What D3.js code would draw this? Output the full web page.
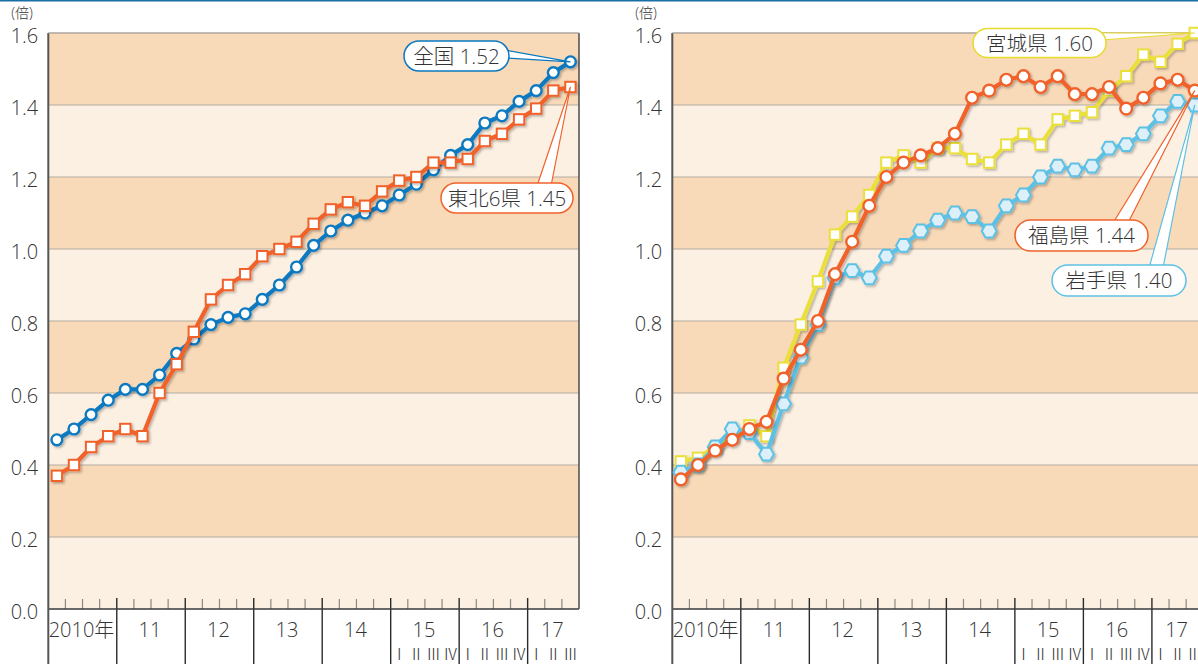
<!DOCTYPE html>
<html><head><meta charset="utf-8">
<script src="https://cdn.jsdelivr.net/npm/d3@7"></script>
<style>
body{margin:0;background:#fff;}
svg{display:block;}
text{font-family:"Open Sans","Noto Sans CJK JP",sans-serif;font-weight:300;fill:#333;}
</style></head><body>
<svg id="chart" width="1198" height="664"></svg>
<script>
// ---- data ----
const quarters = ["2010Q1","2010Q2","2010Q3","2010Q4","2011Q1","2011Q2","2011Q3","2011Q4",
  "2012Q1","2012Q2","2012Q3","2012Q4","2013Q1","2013Q2","2013Q3","2013Q4",
  "2014Q1","2014Q2","2014Q3","2014Q4","2015Q1","2015Q2","2015Q3","2015Q4",
  "2016Q1","2016Q2","2016Q3","2016Q4","2017Q1","2017Q2","2017Q3"];
const years = [2010,2011,2012,2013,2014,2015,2016,2017];
const yearLabels = ["2010年","11","12","13","14","15","16","17"];
const romanLabels = ["Ⅰ","Ⅱ","Ⅲ","Ⅳ"];
const romanYears = [2015,2016,2017];
const yTicks = [0,0.2,0.4,0.6,0.8,1.0,1.2,1.4,1.6];
const yUnit = "(倍)";

const zenkoku   = [0.47,0.50,0.54,0.58,0.61,0.61,0.65,0.71,0.75,0.79,0.81,0.82,0.86,0.90,0.95,1.01,1.05,1.08,1.10,1.12,1.15,1.18,1.22,1.26,1.29,1.35,1.37,1.41,1.44,1.49,1.52];
const tohoku6   = [0.37,0.40,0.45,0.48,0.50,0.48,0.60,0.68,0.77,0.86,0.90,0.93,0.98,1.00,1.02,1.07,1.11,1.13,1.12,1.16,1.19,1.20,1.24,1.24,1.25,1.30,1.32,1.36,1.39,1.44,1.45];
const miyagi    = [0.41,0.42,0.45,0.48,0.51,0.48,0.67,0.79,0.91,1.04,1.09,1.15,1.24,1.26,1.24,1.28,1.28,1.25,1.24,1.29,1.32,1.29,1.36,1.37,1.38,1.44,1.48,1.54,1.52,1.57,1.60];
const fukushima = [0.36,0.40,0.44,0.47,0.50,0.52,0.64,0.72,0.80,0.93,1.02,1.12,1.20,1.24,1.26,1.28,1.32,1.42,1.44,1.47,1.48,1.45,1.48,1.43,1.43,1.45,1.39,1.42,1.46,1.47,1.44];
const iwate     = [0.38,0.40,0.45,0.50,0.49,0.43,0.57,0.70,0.79,0.92,0.94,0.92,0.98,1.01,1.05,1.08,1.10,1.09,1.05,1.12,1.15,1.20,1.23,1.22,1.23,1.28,1.29,1.32,1.37,1.41,1.40];

const seriesNames = ["全国","東北6県","宮城県","福島県","岩手県"];

// ---- styles ----
const C = {
  blue:"#0a79c0", orange:"#f1622b", yellow:"#ebe03b", lblue:"#5cc1e5", lblueFill:"#ddf0fa",
  dark:"#f8dab9", light:"#fcf0e3", grid:"#b4aba3", axis:"#3a3a3a"
};

const svg = d3.select("#chart");
const defs = svg.append("defs");
const f = defs.append("filter").attr("id","shadow").attr("x","-20%").attr("y","-20%").attr("width","140%").attr("height","140%");
f.append("feDropShadow").attr("dx",1.6).attr("dy",1.6).attr("stdDeviation",1).attr("flood-color","#000").attr("flood-opacity",0.28);

// top rule
svg.append("line").attr("x1",0).attr("x2",1198).attr("y1",0.75).attr("y2",0.75)
  .attr("stroke","#1a6ea6").attr("stroke-width",1.5);

const yTop = 33, yBot = 609;
const y = d3.scaleLinear().domain([0,1.6]).range([yBot,yTop]);
const qTime = i => 2010 + (i + 0.5)/4;

function hexPath(r){
  const pts = d3.range(6).map(k => [r*Math.cos(k*Math.PI/3), r*Math.sin(k*Math.PI/3)]);
  return "M" + pts.map(p=>p.join(",")).join("L") + "Z";
}

function drawPanel(x0, x1, series, callouts){
  const x = d3.scaleLinear().domain([2010, 2017.75]).range([x0, x1]);
  const g = svg.append("g");

  // bands
  for (let i=0;i<8;i++){
    g.append("rect").attr("x",x0).attr("width",x1-x0)
      .attr("y",y(yTicks[i+1])).attr("height",y(yTicks[i])-y(yTicks[i+1]))
      .attr("fill", i%2===0 ? C.light : C.dark);
  }
  // gridlines
  g.selectAll(".grid").data(yTicks.slice(1)).enter().append("line")
    .attr("x1",x0).attr("x2",x1).attr("y1",d=>y(d)).attr("y2",d=>y(d))
    .attr("stroke",C.grid).attr("stroke-width",1.2);
  // y labels
  g.selectAll(".yl").data(yTicks).enter().append("text")
    .attr("x",x0-10).attr("y",d=>y(d)+9.5).attr("text-anchor","end")
    .attr("font-size",20).text(d=>d.toFixed(1));
  g.append("text").attr("x",x0-37).attr("y",18).attr("font-size",14)
    .attr("font-family","Noto Sans CJK JP").attr("font-weight",400).text(yUnit);

  // minor ticks (quarters)
  const qb = d3.range(0,32).map(k=>2010+k/4).filter(t=>t<2017.75 && Math.abs(t-Math.round(t))>1e-6);
  g.selectAll(".mt").data(qb).enter().append("line")
    .attr("x1",d=>x(d)).attr("x2",d=>x(d)).attr("y1",yBot-10).attr("y2",yBot)
    .attr("stroke","#8c8884").attr("stroke-width",1.2);
  // major ticks (years)
  g.selectAll(".Mt").data(years.slice(1)).enter().append("line")
    .attr("x1",d=>x(d)).attr("x2",d=>x(d)).attr("y1",yBot-11).attr("y2",664)
    .attr("stroke","#2a2a2a").attr("stroke-width",1.4);
  // axes
  g.append("line").attr("x1",x0).attr("x2",x1).attr("y1",yBot).attr("y2",yBot)
    .attr("stroke",C.axis).attr("stroke-width",1.6);
  g.append("line").attr("x1",x0).attr("x2",x0).attr("y1",yTop).attr("y2",664)
    .attr("stroke","#555").attr("stroke-width",2);
  g.append("line").attr("x1",x1).attr("x2",x1).attr("y1",yTop).attr("y2",yBot)
    .attr("stroke","#555").attr("stroke-width",1.6);
  g.append("line").attr("x1",x0).attr("x2",x1).attr("y1",yTop).attr("y2",yTop)
    .attr("stroke","#a9a29c").attr("stroke-width",1.2);

  // year labels
  years.forEach((yr,i)=>{
    const a = x(yr), b = Math.min(x(yr+1), x1);
    g.append("text").attr("x",(a+b)/2 - 1).attr("y",637).attr("text-anchor","middle")
      .attr("font-size",20).text(yearLabels[i]);
  });
  // roman quarter labels
  romanYears.forEach(yr=>{
    romanLabels.forEach((r,k)=>{
      const t = yr + (k+0.5)/4;
      if (t > 2017.75) return;
      g.append("text").attr("x",x(t)).attr("y",660).attr("text-anchor","middle")
        .attr("font-size",15.5).attr("font-weight",400)
        .attr("font-family","Noto Sans CJK JP").text(r);
    });
  });

  // series
  series.forEach(s=>{
    const sg = svg.append("g").attr("filter","url(#shadow)");
    const line = d3.line().x((d,i)=>x(qTime(i))).y(d=>y(d));
    sg.append("path").datum(s.data).attr("d",line).attr("fill","none")
      .attr("stroke",s.color).attr("stroke-width",4.2).attr("stroke-linejoin","round");
    const m = sg.selectAll(".m").data(s.data).enter();
    if (s.shape==="circle"){
      m.append("circle").attr("cx",(d,i)=>x(qTime(i))).attr("cy",d=>y(d)).attr("r",s.r||5.4)
        .attr("fill","#fff").attr("stroke",s.color).attr("stroke-width",2.4);
    } else if (s.shape==="square"){
      m.append("rect").attr("x",(d,i)=>x(qTime(i))-5.2).attr("y",d=>y(d)-5.2)
        .attr("width",10.4).attr("height",10.4)
        .attr("fill","#fff").attr("stroke",s.color).attr("stroke-width",2);
    } else {
      const hp = hexPath(7.4);
      m.append("path").attr("d",hp)
        .attr("transform",(d,i)=>`translate(${x(qTime(i))},${y(d)})`)
        .attr("fill",C.lblueFill).attr("stroke",s.color).attr("stroke-width",2);
    }
  });

  // callouts
  callouts.forEach(c=>{
    const last = c.data.length-1;
    const tx = x(qTime(last)), ty = y(c.data[last]);
    const cg = svg.append("g");
    cg.append("path").attr("d",`M${c.b1[0]},${c.b1[1]}L${tx},${ty}L${c.b2[0]},${c.b2[1]}`)
      .attr("fill","#fff").attr("stroke",c.color).attr("stroke-width",1.2);
    cg.append("rect").attr("x",c.box[0]).attr("y",c.box[1]).attr("width",c.box[2]).attr("height",c.box[3])
      .attr("rx",c.box[3]/2).attr("fill","#fff").attr("stroke",c.color).attr("stroke-width",1.5);
    cg.append("text").attr("x",c.box[0]+c.box[2]/2).attr("y",c.box[1]+c.box[3]/2+7.5)
      .attr("text-anchor","middle").attr("font-size",20.5)
      .text(c.name + " " + c.data[last].toFixed(2));
  });
}

drawPanel(48.3, 579, [
  {data:zenkoku, color:C.blue, shape:"circle", r:5.4},
  {data:tohoku6, color:C.orange, shape:"square"}
], [
  {name:seriesNames[0], data:zenkoku, color:C.blue, box:[404,41,105,30], b1:[505,50], b2:[505,58]},
  {name:seriesNames[1], data:tohoku6, color:C.orange, box:[441,183,132,30], b1:[537,186], b2:[551,186]}
]);

drawPanel(672.3, 1203.3, [
  {data:miyagi, color:C.yellow, shape:"square"},
  {data:iwate, color:C.lblue, shape:"hex"},
  {data:fukushima, color:C.orange, shape:"circle", r:5.9}
], [
  {name:seriesNames[2], data:miyagi, color:"#e6da2e", box:[973,28.5,133,29], b1:[1102,33], b2:[1102,40]},
  {name:seriesNames[3], data:fukushima, color:C.orange, box:[1015,220,133,31], b1:[1113,223], b2:[1128,223]},
  {name:seriesNames[4], data:iwate, color:C.lblue, box:[1052,265,134,31], b1:[1149,268], b2:[1163,268]}
]);
</script>
</body></html>
